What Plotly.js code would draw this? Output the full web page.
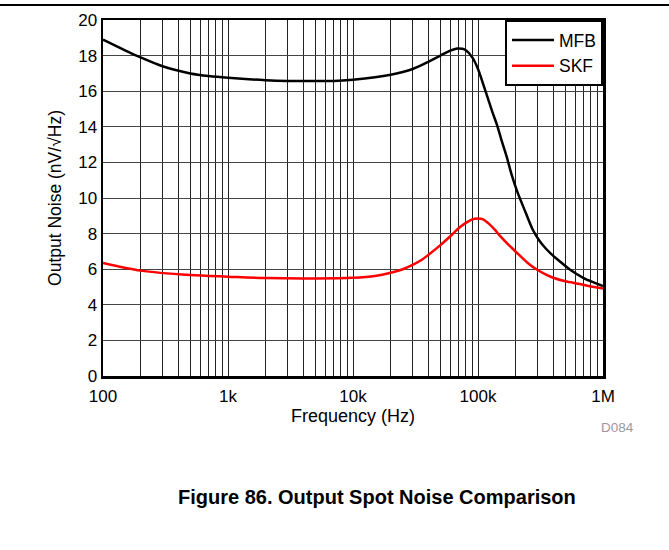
<!DOCTYPE html>
<html>
<head>
<meta charset="utf-8">
<script src="https://cdn.plot.ly/plotly-3.0.1.min.js"></script>
<style>
html,body{margin:0;padding:0;background:#fff;}
#chart{width:669px;height:550px;}
</style>
</head>
<body>
<div id="chart"></div>
<script>
// Data
const mfbFreq = [100,150,200,300,500,700,1000,2000,3000,5000,7000,10000,15000,20000,25000,30000,35000,40000,50000,60000,68000,75000,80000,90000,100000,110000,120000,130000,142000,155000,170000,185000,205000,240000,275000,310000,350000,400000,450000,550000,700000,850000,1000000];
const mfbNoise = [18.9,18.3,17.9,17.4,17.0,16.85,16.75,16.62,16.58,16.57,16.58,16.65,16.78,16.92,17.08,17.25,17.45,17.65,18.0,18.28,18.4,18.38,18.3,17.9,17.25,16.4,15.6,14.85,14.1,13.2,12.3,11.35,10.4,9.2,8.2,7.6,7.15,6.75,6.45,5.95,5.5,5.25,5.05];
const skfFreq = [100,200,500,1000,2000,5000,10000,15000,20000,25000,30000,35000,40000,50000,60000,70000,80000,90000,100000,110000,120000,135000,150000,175000,205000,250000,295000,350000,400000,500000,655000,800000,1000000];
const skfNoise = [6.35,5.92,5.67,5.58,5.5,5.48,5.52,5.62,5.8,6.0,6.24,6.5,6.8,7.35,7.85,8.3,8.6,8.8,8.85,8.8,8.6,8.25,7.87,7.38,6.92,6.35,5.98,5.7,5.52,5.32,5.17,5.03,4.92];
const seriesNames = ['MFB','SKF'];
const seriesColors = ['#000000','#ff0000'];

const xGridVals = [];
const xGridText = [];
const decadeLabels = {100:'100',1000:'1k',10000:'10k',100000:'100k',1000000:'1M'};
for (let d = 100; d <= 1000000; d *= 10) {
  for (let m = 1; m <= 9; m++) {
    const v = d*m;
    if (v > 1000000) break;
    xGridVals.push(v);
    xGridText.push(m === 1 ? decadeLabels[d] : '');
  }
}
const yTicks = [0,2,4,6,8,10,12,14,16,18,20];

const font = 'Liberation Sans, Arial, sans-serif';

const traces = [
  {x: mfbFreq, y: mfbNoise, name: seriesNames[0], mode: 'lines', line: {color: seriesColors[0], width: 2.5, shape: 'spline', smoothing: 0.8}},
  {x: skfFreq, y: skfNoise, name: seriesNames[1], mode: 'lines', line: {color: seriesColors[1], width: 2.5, shape: 'spline', smoothing: 0.8}}
];

const layout = {
  width: 669, height: 550,
  margin: {l: 103, r: 66, t: 20, b: 174},
  paper_bgcolor: '#fff', plot_bgcolor: '#fff',
  font: {family: font, color: '#000', size: 17},
  showlegend: true,
  legend: {x: 1, y: 1, xanchor: 'right', yanchor: 'top', bgcolor: '#fff', bordercolor: '#000', borderwidth: 2,
           font: {family: font, size: 17.5, color: '#000'}, tracegroupgap: 0, itemwidth: 42},
  xaxis: {
    type: 'log', range: [2, 6], tickmode: 'array', tickvals: xGridVals, ticktext: xGridText,
    showgrid: true, gridcolor: '#222', gridwidth: 1, ticks: '', zeroline: false,
    showline: true, mirror: true, linecolor: '#000', linewidth: 2.5,
    tickfont: {family: font, size: 17}, ticklabelstandoff: 3,
    title: {text: 'Frequency (Hz)', font: {family: font, size: 18}, standoff: 3}
  },
  yaxis: {
    range: [0, 20], tickmode: 'array', tickvals: yTicks,
    showgrid: true, gridcolor: '#444', gridwidth: 1, ticks: '', zeroline: false,
    showline: true, mirror: true, linecolor: '#000', linewidth: 2.5,
    tickfont: {family: font, size: 17},
    title: {text: 'Output Noise (nV/\u221AHz)', font: {family: font, size: 17.5}, standoff: 12}
  },
  shapes: [
    {type: 'line', xref: 'paper', yref: 'paper', x0: -0.206, x1: 1.132, y0: 1.042, y1: 1.042, line: {color: '#000', width: 2}}
  ],
  annotations: [
    {text: 'D084', xref: 'paper', yref: 'paper', x: 1.028, y: -0.146, xanchor: 'center', yanchor: 'middle', showarrow: false,
     font: {family: font, size: 13.5, color: '#999'}},
    {text: '<b>Figure 86. Output Spot Noise Comparison</b>', xref: 'paper', yref: 'paper', x: 0.548, y: -0.340, xanchor: 'center', yanchor: 'middle', showarrow: false,
     font: {family: font, size: 20, color: '#000'}}
  ]
};

Plotly.newPlot('chart', traces, layout, {displayModeBar: false, staticPlot: true});
</script>
</body>
</html>
